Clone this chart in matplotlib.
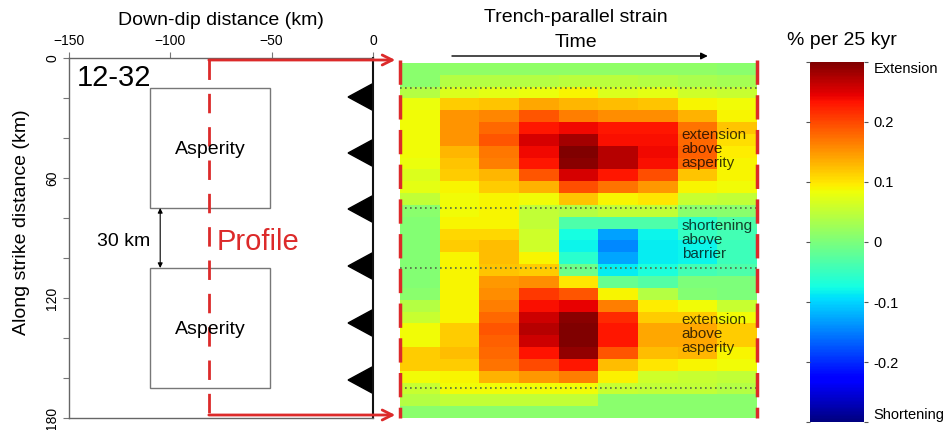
import numpy as np
import matplotlib.pyplot as plt
from matplotlib.patches import Rectangle, Polygon

plt.rcParams['font.family'] = ['Liberation Sans', 'DejaVu Sans']

# left panel: model geometry (km)
down_dip_ticks = [-150, -100, -50, 0]
strike_ticks = [0, 60, 120, 180]
strike_minor = [20, 40, 80, 100, 140, 160]
asperities = [(-110, 15, 59, 60), (-110, 105, 59, 60)]  # x, y, width, height
profile_x = -81
trench_marks = [19.5, 47.5, 75.5, 104, 132.5, 161]
barrier = (75, 105)
asperity_edges = [15, 75, 105, 165]

# right panel: trench-parallel strain (% per 25 kyr), rows = along strike, cols = time steps
strain = np.array([
    [0.010, 0.015, 0.015, 0.015, 0.015, 0.015, 0.015, 0.015, 0.010],
    [0.010, 0.040, 0.040, 0.040, 0.045, 0.045, 0.040, 0.035, 0.030],
    [0.040, 0.070, 0.075, 0.080, 0.090, 0.070, 0.075, 0.060, 0.055],
    [0.080, 0.115, 0.120, 0.140, 0.130, 0.125, 0.120, 0.090, 0.085],
    [0.085, 0.150, 0.160, 0.190, 0.165, 0.157, 0.157, 0.133, 0.090],
    [0.085, 0.150, 0.180, 0.230, 0.240, 0.230, 0.230, 0.173, 0.120],
    [0.085, 0.150, 0.190, 0.255, 0.280, 0.235, 0.235, 0.180, 0.105],
    [0.085, 0.130, 0.170, 0.240, 0.300, 0.270, 0.240, 0.185, 0.095],
    [0.080, 0.120, 0.165, 0.230, 0.295, 0.270, 0.235, 0.180, 0.090],
    [0.070, 0.115, 0.130, 0.190, 0.255, 0.230, 0.195, 0.120, 0.090],
    [0.075, 0.090, 0.115, 0.133, 0.195, 0.173, 0.149, 0.090, 0.085],
    [0.050, 0.085, 0.090, 0.085, 0.120, 0.090, 0.100, 0.055, 0.050],
    [0.010, 0.085, 0.090, 0.050, 0.040, 0.050, 0.050, 0.010, 0.010],
    [0.005, 0.090, 0.090, 0.050, -0.035, -0.035, -0.035, -0.060, -0.035],
    [0.005, 0.110, 0.110, 0.060, -0.075, -0.130, -0.080, -0.050, -0.040],
    [0.005, 0.115, 0.125, 0.060, -0.080, -0.145, -0.085, -0.080, -0.045],
    [0.005, 0.090, 0.125, 0.090, -0.060, -0.128, -0.085, -0.080, -0.045],
    [0.005, 0.090, 0.120, 0.115, -0.010, -0.085, -0.070, -0.040, -0.035],
    [0.005, 0.090, 0.149, 0.157, 0.100, -0.015, -0.030, 0.000, 0.000],
    [0.010, 0.090, 0.157, 0.210, 0.190, 0.090, 0.040, 0.005, 0.000],
    [0.040, 0.090, 0.165, 0.235, 0.245, 0.165, 0.095, 0.085, 0.055],
    [0.055, 0.090, 0.180, 0.260, 0.295, 0.220, 0.115, 0.115, 0.085],
    [0.085, 0.115, 0.190, 0.270, 0.300, 0.230, 0.140, 0.140, 0.115],
    [0.085, 0.115, 0.185, 0.260, 0.300, 0.230, 0.140, 0.140, 0.115],
    [0.115, 0.125, 0.180, 0.234, 0.290, 0.190, 0.125, 0.130, 0.090],
    [0.115, 0.115, 0.173, 0.197, 0.230, 0.125, 0.100, 0.090, 0.085],
    [0.085, 0.090, 0.133, 0.149, 0.165, 0.092, 0.060, 0.055, 0.050],
    [0.055, 0.085, 0.085, 0.085, 0.085, 0.055, 0.050, 0.050, 0.040],
    [0.040, 0.050, 0.050, 0.050, 0.050, 0.010, 0.010, 0.010, 0.010],
    [0.010, 0.010, 0.010, 0.010, 0.010, 0.010, 0.010, 0.010, 0.010],
])
cbar_ticks = [0.3, 0.2, 0.1, 0, -0.1, -0.2, -0.3]
cbar_labels = ['Extension', '0.2', '0.1', '0', '-0.1', '-0.2', 'Shortening']

red = '#dc2a2a'

fig = plt.figure(figsize=(9.46, 4.30), dpi=100)

# ---- left panel
ax = fig.add_axes([69 / 946, 12 / 430, 304 / 946, 360 / 430])
ax.set_xlim(-150, 0)
ax.set_ylim(180, 0)
ax.xaxis.tick_top()
ax.xaxis.set_label_position('top')
ax.set_xticks(down_dip_ticks)
ax.set_yticks(strike_ticks)
ax.set_yticks(strike_minor, minor=True)
ax.set_yticklabels([str(t) for t in strike_ticks], rotation=90, va='center')
ax.tick_params(axis='both', which='both', length=4, width=0.8, color='#777777',
               labelsize=10, pad=3)
ax.tick_params(axis='y', which='minor', length=4)
for side in ['left', 'top', 'bottom']:
    ax.spines[side].set_color('#666666')
    ax.spines[side].set_linewidth(1.0)
ax.spines['right'].set_color('#111111')
ax.spines['right'].set_linewidth(1.5)
ax.set_xlabel('Down-dip distance (km)', fontsize=14, labelpad=7)
ax.set_ylabel('Along strike distance (km)', fontsize=14)
ax.yaxis.set_label_coords(-0.128, 0.544)

for (x0, y0, w, h) in asperities:
    ax.add_patch(Rectangle((x0, y0), w, h, fill=False, edgecolor='#777777', lw=1))
    ax.text(x0 + w / 2, y0 + h / 2 + 1, 'Asperity', ha='center', va='center', fontsize=14)

for y in trench_marks:
    ax.add_patch(Polygon([(0, y - 6.75), (0, y + 6.75), (-12.3, y)], closed=True,
                         facecolor='black', edgecolor='black', clip_on=False))

ax.annotate('', xy=(-105, barrier[0]), xytext=(-105, barrier[1]),
            arrowprops=dict(arrowstyle='<|-|>', lw=0.8, color='black',
                            mutation_scale=7, shrinkA=0, shrinkB=0))
ax.text(-123, 92, '30 km', ha='center', va='center', fontsize=14)
ax.text(-146, 10, '12-32', ha='left', va='center', fontsize=21)
ax.text(-77, 92, 'Profile', ha='left', va='center', fontsize=21, color=red)

ax.plot([profile_x, profile_x], [1, 178.5], color=red, lw=2, dashes=(7, 5), clip_on=False)
for y in [1, 178.5]:
    ax.annotate('', xy=(11, y), xytext=(profile_x, y), annotation_clip=False,
                arrowprops=dict(arrowstyle='->', color=red, lw=2, mutation_scale=18,
                                shrinkA=0, shrinkB=0))

# ---- right panel: strain heatmap
ax2 = fig.add_axes([400 / 946, 12 / 430, 357 / 946, 360 / 430])
ncol = strain.shape[1]
col_edges = np.arange(ncol + 1)
row_edges = np.linspace(2.5, 180, strain.shape[0] + 1)
mesh = ax2.pcolormesh(col_edges, row_edges, strain, cmap='jet', vmin=-0.3, vmax=0.3,
                      shading='flat')
ax2.set_xlim(0, ncol)
ax2.set_ylim(180, 0)
ax2.axis('off')
ax2.hlines(asperity_edges, 0, ncol, colors='#55664a', linestyles=(0, (1, 2)), lw=1.2)
for x in [0, ncol]:
    ax2.plot([x, x], [1, 180], color=red, lw=2.5, dashes=(7, 3), clip_on=False)

ax2.text(4.44, -20, 'Trench-parallel strain', ha='center', va='center', fontsize=14,
         clip_on=False)
ax2.text(4.44, -7.5, 'Time', ha='center', va='center', fontsize=14, clip_on=False)
ax2.annotate('', xy=(7.76, -1), xytext=(1.31, -1), annotation_clip=False,
             arrowprops=dict(arrowstyle='-|>', lw=1, color='black', mutation_scale=10,
                             shrinkA=0, shrinkB=0))

for y, txt in [(45.5, 'extension\nabove\nasperity'),
               (91, 'shortening\nabove\nbarrier'),
               (138, 'extension\nabove\nasperity')]:
    ax2.text(7.1, y, txt, ha='left', va='center', fontsize=11, linespacing=1.0,
             color='black', alpha=0.75)

# ---- colorbar
cax = fig.add_axes([810 / 946, 8 / 430, 54 / 946, 360 / 430])
cb = fig.colorbar(mesh, cax=cax, ticks=cbar_ticks)
cb.ax.set_yticklabels(cbar_labels)
cb.ax.tick_params(labelsize=10.5, length=3, width=0.8, color='#555555', pad=4,
                  left=True, right=True, direction='out')
cb.outline.set_visible(False)
labels = cb.ax.get_yticklabels()
labels[0].set_va('top')
labels[-1].set_va('bottom')
cax.text(0.6, 1.06, '% per 25 kyr', transform=cax.transAxes, ha='center', va='center',
         fontsize=14)

fig.savefig('out.png', dpi=100)
